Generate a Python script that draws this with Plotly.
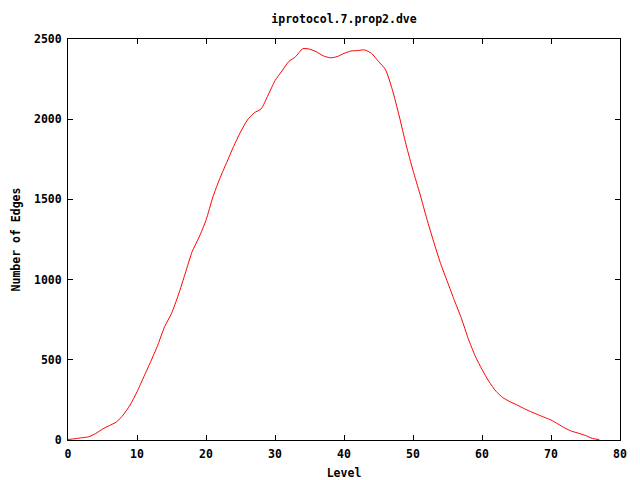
import plotly.graph_objects as go

levels = list(range(0, 78))
edges = [3, 8, 14, 20, 40, 68, 90, 112, 156, 218,
         300, 395, 490, 590, 706, 789, 905, 1040, 1175, 1265,
         1370, 1515, 1630, 1730, 1830, 1920, 1995, 2040, 2065, 2150,
         2240, 2300, 2360, 2390, 2439, 2437, 2420, 2395, 2383, 2390,
         2410, 2425, 2428, 2432, 2410, 2360, 2310, 2185, 2020, 1840,
         1681, 1535, 1380, 1235, 1100, 985, 870, 760, 633, 525,
         440, 365, 305, 265, 240, 220, 198, 178, 160, 142,
         125, 100, 75, 55, 42, 28, 10, 2]

title_text = "iprotocol.7.prop2.dve"
x_title = "Level"
y_title = "Number of Edges"

font = dict(family="DejaVu Sans Mono", size=11.5, color="black", weight="bold")

# page body has an 8px offset; figure geometry compensates for it
W, H = 632, 472
fig = go.Figure()
fig.add_trace(go.Scatter(x=levels, y=edges, mode="lines",
                         line=dict(color="#ff0000", width=1, shape="spline", smoothing=0.6),
                         showlegend=False, hoverinfo="skip"))

fig.update_layout(
    width=W, height=H,
    margin=dict(l=60, r=20, t=31, b=40, autoexpand=False),
    paper_bgcolor="white", plot_bgcolor="white",
    font=font,
    title=dict(text=title_text, x=336 / W, xanchor="center",
               y=1 - 11 / H, yanchor="middle", yref="container", font=font),
    showlegend=False,
)
fig.update_xaxes(range=[0, 80], dtick=10, tick0=0, ticks="inside", ticklen=5,
                 tickcolor="black", showline=True, linecolor="black", linewidth=1,
                 mirror="ticks", showgrid=False, zeroline=False, automargin=False,
                 ticklabelstandoff=3,
                 title=dict(text=x_title, font=font, standoff=10), tickfont=font)
fig.update_yaxes(range=[0, 2500], dtick=500, tick0=0, ticks="inside", ticklen=5,
                 tickcolor="black", showline=True, linecolor="black", linewidth=1,
                 mirror="ticks", showgrid=False, zeroline=False, automargin=False,
                 ticklabelstandoff=3,
                 title=dict(text=y_title, font=font, standoff=10), tickfont=font)

fig.write_html("out.html")
